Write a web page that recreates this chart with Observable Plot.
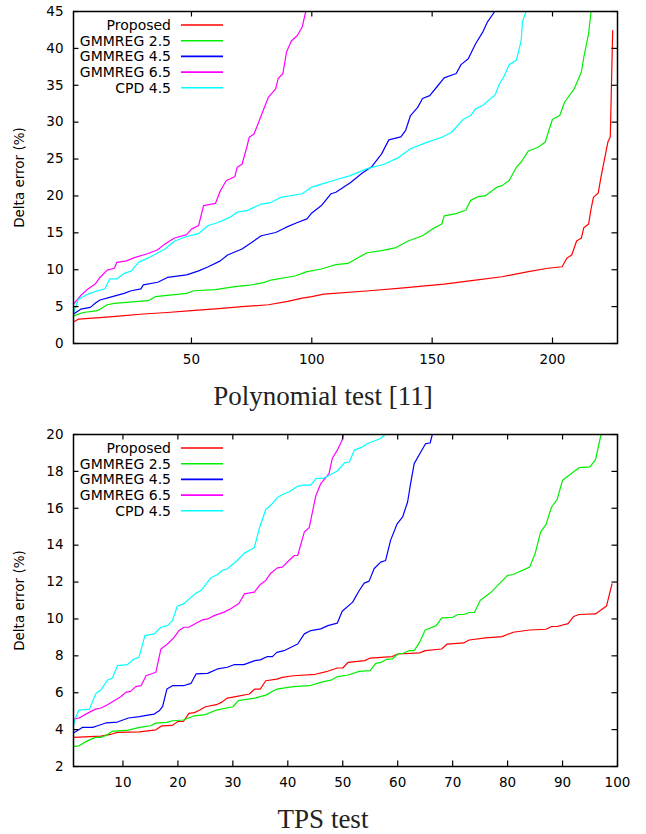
<!DOCTYPE html>
<html><head><meta charset="utf-8">
<script src="https://cdn.jsdelivr.net/npm/d3@7"></script>
<script src="https://cdn.jsdelivr.net/npm/@observablehq/plot@0.6"></script>
<style>
body{margin:0;background:#fff;}
#wrap{position:relative;width:646px;height:834px;overflow:hidden;background:#fff;font-family:"DejaVu Sans",sans-serif;}
.panel{position:absolute;left:0;}
.caption{position:absolute;left:0;width:646px;text-align:center;font-family:"Liberation Serif","Times New Roman",serif;font-size:27px;line-height:27px;color:#222;white-space:pre;}
.legtext{position:absolute;left:0;width:171px;text-align:right;font-size:14px;line-height:16px;height:16px;color:#000;white-space:nowrap;}
.legsvg{position:absolute;left:0;top:0;}
</style>
</head><body>
<div id="wrap"></div>
<script>
const seriesNames = ["Proposed", "GMMREG 2.5", "GMMREG 4.5", "GMMREG 6.5", "CPD 4.5"];
const seriesColors = ["#ff0000", "#00ee00", "#0000ff", "#ff00ff", "#00ffff"];
const yLabel = "Delta error (%)";
const captions = ["Polynomial test [11]", "TPS test"];

// Polynomial test: [index, delta error %]
const polyProposed = [[1,2.9],[3,3.3],[12,3.5],[21,3.75],[30,4.0],[40,4.2],[50,4.45],[60,4.7],[71,5.0],[82,5.25],[90,5.7],[96,6.15],[100,6.35],[105,6.7],[124,7.15],[137,7.5],[155,8.05],[168,8.6],[179,9.05],[190,9.75],[198,10.2],[204,10.4],[206,11.6],[208,12.0],[210,13.9],[212,14.3],[213,15.7],[215,16.2],[216,18.2],[217,19.8],[219,20.4],[220,22.3],[223,27.3],[224,28.0],[225,42.4]];
const polyGmm25 = [[1,3.75],[5,4.2],[11,4.45],[15,5.25],[18,5.45],[32,5.8],[35,6.35],[48,6.8],[51,7.15],[60,7.3],[68,7.7],[74,7.9],[80,8.25],[83,8.6],[93,9.15],[98,9.75],[104,10.1],[108,10.5],[110,10.7],[115,10.85],[119,11.6],[123,12.3],[129,12.6],[135,13.0],[140,13.9],[146,14.6],[150,15.5],[154,16.2],[155,17.3],[160,17.6],[164,18.1],[166,19.4],[169,19.9],[172,20.0],[177,21.2],[179,21.4],[182,22.1],[185,23.9],[187,24.6],[190,26.1],[194,26.6],[197,27.3],[198,28.4],[200,30.4],[203,30.9],[205,32.7],[209,34.5],[212,36.8],[213,38.8],[215,42.0],[216,45.0]];
const polyGmm45 = [[1,4.0],[4,4.65],[8,4.9],[10,5.45],[12,5.9],[16,6.25],[22,6.8],[25,7.15],[29,7.4],[30,7.95],[36,8.3],[40,8.95],[48,9.3],[53,9.85],[57,10.4],[62,11.2],[65,12.0],[71,12.8],[75,13.7],[79,14.6],[85,15.05],[89,15.7],[94,16.4],[98,16.9],[100,17.7],[104,18.7],[108,20.3],[110,20.5],[116,21.8],[121,23.1],[125,24.0],[129,25.7],[132,27.6],[137,28.0],[139,28.9],[141,30.9],[144,32.0],[146,33.2],[149,33.6],[152,34.8],[155,36.0],[160,36.6],[162,37.8],[165,38.6],[168,40.6],[171,42.2],[173,43.6],[176,45.0]];
const polyGmm65 = [[1,5.35],[4,6.5],[7,7.4],[10,8.05],[12,8.95],[15,9.95],[18,10.2],[19,11.0],[23,11.2],[26,11.6],[32,12.2],[36,12.7],[39,13.5],[43,14.3],[48,14.75],[50,15.5],[53,16.0],[55,18.7],[60,19.0],[62,20.7],[64.5,22.1],[68,22.6],[69,23.9],[71,24.3],[73,26.6],[74,27.95],[76,28.4],[79,30.9],[82,33.4],[85,34.5],[86,35.9],[88,36.6],[89.5,39.5],[91.5,41.0],[94,41.75],[96,42.9],[97.5,45.0]];
const polyCpd45 = [[1,4.2],[3,6.0],[7,6.7],[11,7.15],[14,7.4],[16,8.75],[19,8.75],[22,9.5],[25,9.8],[28,11.0],[32,11.6],[35,12.1],[39,12.8],[43,13.9],[48,14.5],[53,14.9],[57,16.0],[61,16.4],[66,17.1],[69,17.8],[73,18.0],[79,18.9],[83,19.1],[87,19.8],[96,20.3],[100,21.2],[104,21.6],[110,22.2],[116,22.75],[123,23.7],[130,24.3],[136,25.2],[141,26.4],[148,27.3],[154,27.95],[158,28.6],[163,30.4],[166,30.9],[168,31.8],[171,32.25],[175,33.4],[176,33.6],[178,35.2],[180,36.3],[182,37.8],[185,38.4],[187,41.1],[187.5,43.6],[189,45.0]];

// TPS test
const tpsProposed = [[1,3.58],[6,3.65],[8,3.76],[9,3.85],[13,3.88],[16,3.99],[17,4.2],[19,4.23],[20,4.44],[21,4.44],[22,4.88],[23,4.92],[24,5.06],[25,5.24],[27,5.35],[28,5.49],[29,5.71],[31,5.82],[33,5.93],[34,6.2],[35,6.2],[36,6.65],[38,6.74],[39,6.83],[41,6.92],[45,7.0],[47,7.14],[49,7.34],[50,7.34],[51,7.65],[54,7.74],[55,7.88],[59,7.96],[60,8.1],[64,8.16],[65,8.28],[68,8.37],[69,8.64],[72,8.7],[73,8.86],[76,8.97],[79,9.04],[81,9.28],[84,9.4],[87,9.44],[88,9.59],[89,9.59],[91,9.75],[92,10.13],[93,10.24],[96,10.27],[98,10.7],[99,11.9]];
const tpsGmm25 = [[1,3.09],[2,3.12],[3.5,3.39],[5,3.58],[6,3.58],[7,3.7],[8,3.9],[11,3.97],[13,4.12],[15,4.21],[16,4.35],[18,4.39],[19,4.48],[21,4.52],[23,4.75],[25,4.81],[27,5.06],[30,5.24],[31,5.57],[34,5.71],[36,5.87],[38,6.2],[41,6.33],[44,6.38],[46,6.56],[48,6.7],[49,6.87],[51,6.96],[53,7.16],[55,7.2],[56,7.59],[57,7.65],[58,7.81],[59,7.83],[60,8.1],[61,8.14],[62,8.28],[63,8.28],[64,8.74],[65,9.4],[67,9.64],[68,10.06],[70,10.09],[71,10.24],[72,10.24],[73,10.35],[74,10.36],[75,11.0],[77,11.45],[80,12.36],[81,12.41],[84,12.81],[85,13.53],[86,14.71],[87,15.13],[88,16.07],[89,16.47],[90,17.52],[93,18.2],[95,18.24],[96,18.64],[97,20.0]];
const tpsGmm45 = [[1,3.81],[2.6,4.12],[4.5,4.12],[5.4,4.21],[7,4.37],[9,4.41],[11,4.63],[13,4.7],[14.5,4.79],[15.7,4.84],[16.6,5.02],[17.2,5.24],[18,6.2],[19,6.38],[21,6.38],[22.4,6.51],[23.3,7.02],[25.4,7.05],[27.2,7.29],[29,7.38],[30.2,7.52],[32,7.52],[34,7.74],[35,7.78],[36.3,7.96],[37.2,7.96],[38,8.19],[39.3,8.28],[41.8,8.64],[43,9.19],[44.2,9.37],[46,9.46],[47.3,9.64],[49,9.77],[49.9,10.42],[51.8,10.91],[53,11.54],[53.9,11.94],[54.8,12.05],[55.7,12.72],[56.9,13.08],[57.8,13.17],[58.7,14.26],[59.9,15.16],[60.9,15.53],[61.8,16.34],[62.4,17.43],[63,18.42],[64.2,19.05],[65.1,19.51],[65.9,19.54],[66.3,20.0]];
const tpsGmm65 = [[1,4.57],[2,4.63],[3.5,4.88],[5,5.11],[6,5.17],[7.2,5.35],[8.4,5.57],[9.6,5.78],[10.5,6.02],[11.4,6.07],[12.3,6.33],[13.3,6.38],[14.2,6.92],[16,7.11],[16.9,8.37],[18.1,8.64],[19.3,9.0],[20.2,9.37],[21.1,9.55],[22,9.55],[23.6,9.82],[24.5,9.95],[25.4,10.0],[26.6,10.18],[28.4,10.37],[29.6,10.55],[31.1,10.84],[32.1,11.36],[33.9,11.45],[35.1,11.9],[36,12.09],[36.9,12.48],[38.1,12.77],[39,12.81],[40.2,13.17],[41.2,13.44],[41.8,13.44],[43,14.71],[43.9,14.95],[45.1,16.68],[46,17.34],[46.9,17.66],[47.5,17.88],[48.1,18.7],[49,19.15],[49.9,19.7],[50.1,20.0]];
const tpsCpd45 = [[1,4.21],[1.4,4.66],[2,5.06],[3.9,5.11],[5.1,5.97],[6,6.15],[7.2,6.69],[8.1,6.8],[9,7.47],[10.8,7.52],[12,7.83],[12.9,7.92],[14,9.1],[15.7,9.19],[16.9,9.55],[18.1,9.64],[19,9.91],[19.9,10.7],[21,10.8],[22.4,11.18],[23.3,11.4],[24.2,11.54],[26,12.23],[27.2,12.41],[28.1,12.63],[29,12.72],[30.8,13.17],[32.1,13.57],[33.9,13.86],[34.8,14.9],[36,15.93],[36.9,16.16],[38.1,16.58],[39.3,16.79],[40.2,16.88],[41.8,17.19],[42.7,17.25],[44.2,17.25],[45.1,17.61],[46.6,17.64],[49,18.02],[50.3,18.46],[51.2,18.51],[52.1,19.15],[53.6,19.33],[54.5,19.51],[56.9,19.78],[57.7,20.0]];

const polyXTicks = [50, 100, 150, 200];
const polyYTicks = [0, 5, 10, 15, 20, 25, 30, 35, 40, 45];
const tpsXTicks = [10, 20, 30, 40, 50, 60, 70, 80, 90, 100];
const tpsYTicks = [2, 4, 6, 8, 10, 12, 14, 16, 18, 20];

function makePanel(series, xDomain, yDomain, xTicks, yTicks, height, marginTop, marginBottom, xPad) {
  const W = 646, ML = 73, MR = 29, TL = 5.5;
  const innerH = height - marginTop - marginBottom, innerW = W - ML - MR;
  return Plot.plot({
    width: W, height, marginLeft: ML, marginRight: MR, marginTop, marginBottom,
    x: {domain: xDomain}, y: {domain: yDomain},
    style: {fontFamily: "'DejaVu Sans', sans-serif", fontSize: "13.5px", color: "#000", background: "#fff", overflow: "visible"},
    marks: [
      ...series.map((s, i) => Plot.line(s, {x: d => d[0], y: d => d[1], stroke: seriesColors[i], strokeWidth: 1.2, clip: true})),
      Plot.tickX(xTicks, {x: d => d, insetTop: innerH - TL, stroke: "#000", strokeWidth: 1.2}),
      Plot.tickX(xTicks, {x: d => d, insetBottom: innerH - TL, stroke: "#000", strokeWidth: 1.2}),
      Plot.tickY(yTicks, {y: d => d, insetLeft: innerW - TL, stroke: "#000", strokeWidth: 1.2}),
      Plot.tickY(yTicks, {y: d => d, insetRight: innerW - TL, stroke: "#000", strokeWidth: 1.2}),
      Plot.axisX({ticks: xTicks, tickSize: 0, tickPadding: xPad, label: null, tickFormat: d => String(d)}),
      Plot.axisY({ticks: yTicks, tickSize: 0, tickPadding: 10, label: null, tickFormat: d => String(d)}),
      Plot.text([yLabel], {frameAnchor: "left", dx: -54, rotate: -90, textAnchor: "middle", lineAnchor: "middle", fontSize: 13.5, fill: "#000"}),
      Plot.frame({stroke: "#000", strokeWidth: 1.5})
    ]
  });
}

const wrap = document.getElementById("wrap");
const svgNS = "http://www.w3.org/2000/svg";
const legSvg = document.createElementNS(svgNS, "svg");
legSvg.setAttribute("class", "legsvg");
legSvg.setAttribute("width", "646");
legSvg.setAttribute("height", "834");

function place(el, top) {
  const d = document.createElement("div");
  d.className = "panel"; d.style.top = top + "px";
  d.appendChild(el); wrap.appendChild(d);
}
function legend(frameTop) {
  seriesNames.forEach((name, i) => {
    const yc = frameTop + 14 + i * 15.7;
    const t = document.createElement("div");
    t.className = "legtext"; t.style.top = (yc - 8) + "px"; t.textContent = name;
    wrap.appendChild(t);
    const l = document.createElementNS(svgNS, "line");
    l.setAttribute("x1", 181); l.setAttribute("x2", 223);
    l.setAttribute("y1", yc); l.setAttribute("y2", yc);
    l.setAttribute("stroke", seriesColors[i]); l.setAttribute("stroke-width", 1.6);
    legSvg.appendChild(l);
  });
}
function caption(text, top) {
  const c = document.createElement("div");
  c.className = "caption"; c.style.top = top + "px"; c.textContent = text;
  wrap.appendChild(c);
}

place(makePanel([polyProposed, polyGmm25, polyGmm45, polyGmm65, polyCpd45], [1, 227], [0, 45], polyXTicks, polyYTicks, 372, 11, 29, 10.5), 0);
place(makePanel([tpsProposed, tpsGmm25, tpsGmm45, tpsGmm65, tpsCpd45], [1, 100], [2, 20], tpsXTicks, tpsYTicks, 380, 14, 34, 11), 420);
wrap.appendChild(legSvg);
legend(11);
caption(captions[0], 383.4);
legend(434);
caption(captions[1], 805.7);
</script>
</body></html>
